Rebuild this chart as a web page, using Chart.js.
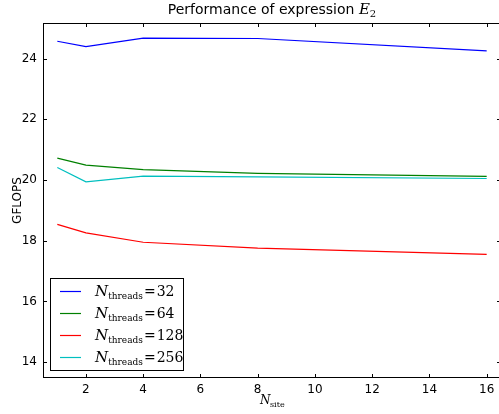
<!DOCTYPE html>
<html>
<head>
<meta charset="utf-8">
<script src="https://cdn.jsdelivr.net/npm/chart.js@4.4.1/dist/chart.umd.min.js"></script>
<style>
  html, body { margin: 0; padding: 0; overflow: hidden; background: #fff; }
</style>
</head>
<body>
<canvas id="perfChart" width="502" height="414" style="width:502px;height:414px"></canvas>
<script>
// values
const nSite = [1, 2, 4, 8, 16];
const threads32 = [24.57, 24.39, 24.67, 24.66, 24.25];
const threads64 = [20.72, 20.49, 20.34, 20.22, 20.12];
const threads128 = [18.54, 18.26, 17.95, 17.76, 17.55];
const threads256 = [20.41, 19.94, 20.13, 20.10, 20.05];

const threadLabels = ["32", "64", "128", "256"];
const lineColours = ["#0000ff", "#008000", "#ff0000", "#00bfbf"];
const xTicks = [2, 4, 6, 8, 10, 12, 14, 16];
const yTicks = [14, 16, 18, 20, 22, 24];

const seriesList = [threads32, threads64, threads128, threads256];

const datasets = seriesList.map((vals, i) => ({
    label: threadLabels[i],
    data: nSite.map((x, j) => ({ x: x, y: vals[j] })),
    borderColor: lineColours[i],
    borderWidth: 1.2,
    pointRadius: 0,
    fill: false,
    tension: 0,
}));

// draws the frame, inward ticks, title, axis titles and legend
const decorations = {
    id: "decorations",
    afterDatasetsDraw(chart) {
        const ctx = chart.ctx;
        const area = chart.chartArea;
        const xs = chart.scales.x;
        const ys = chart.scales.y;
        ctx.save();

        // frame
        ctx.strokeStyle = "#000";
        ctx.lineWidth = 1;
        ctx.strokeRect(area.left + 0.5, area.top + 0.5, area.right - area.left - 1, area.bottom - area.top - 1);

        // inward ticks on all four sides
        const tl = 4;
        ctx.beginPath();
        xTicks.forEach(v => {
            const px = Math.round(xs.getPixelForValue(v)) + 0.5;
            ctx.moveTo(px, area.bottom); ctx.lineTo(px, area.bottom - tl);
            ctx.moveTo(px, area.top); ctx.lineTo(px, area.top + tl);
        });
        yTicks.forEach(v => {
            const py = Math.round(ys.getPixelForValue(v)) + 0.5;
            ctx.moveTo(area.left, py); ctx.lineTo(area.left + tl, py);
            ctx.moveTo(area.right, py); ctx.lineTo(area.right - tl, py);
        });
        ctx.stroke();

        // title
        ctx.fillStyle = "#000";
        ctx.textBaseline = "alphabetic";
        const t1 = "Performance of expression ";
        ctx.font = "14px 'DejaVu Sans'";
        const w1 = ctx.measureText(t1).width;
        ctx.font = "italic 15px 'DejaVu Serif'";
        const wE = ctx.measureText("E").width;
        ctx.font = "10px 'DejaVu Serif'";
        const w2 = ctx.measureText("2").width;
        let tx = (area.left + area.right) / 2 - (w1 + wE + w2) / 2;
        ctx.textAlign = "left";
        ctx.font = "14px 'DejaVu Sans'";
        ctx.fillText(t1, tx, 14);
        tx += w1;
        ctx.font = "italic 15px 'DejaVu Serif'";
        ctx.fillText("E", tx, 14);
        tx += wE;
        ctx.font = "10px 'DejaVu Serif'";
        ctx.fillText("2", tx, 17);

        // x axis title N_site
        ctx.font = "italic 12px 'DejaVu Serif'";
        ctx.fillText("N", 260, 404);
        ctx.font = "8px 'DejaVu Serif'";
        ctx.fillText("site", 270, 407);

        // y axis title
        ctx.save();
        ctx.translate(21, (area.top + area.bottom) / 2);
        ctx.rotate(-Math.PI / 2);
        ctx.textAlign = "center";
        ctx.font = "12px 'DejaVu Sans'";
        ctx.fillText("GFLOPS", 0, 0);
        ctx.restore();

        // legend
        ctx.fillStyle = "#fff";
        ctx.fillRect(50, 278, 134, 93);
        ctx.strokeStyle = "#000";
        ctx.strokeRect(50.5, 278.5, 133, 92);
        threadLabels.forEach((lab, i) => {
            const ry = 291 + i * 22;
            ctx.strokeStyle = lineColours[i];
            ctx.lineWidth = 1.2;
            ctx.beginPath();
            ctx.moveTo(60, ry + 0.5); ctx.lineTo(81, ry + 0.5);
            ctx.stroke();
            ctx.fillStyle = "#000";
            let lx = 95;
            ctx.font = "italic 15px 'DejaVu Serif'";
            ctx.fillText("N", lx, ry + 5);
            lx += ctx.measureText("N").width;
            ctx.font = "9px 'DejaVu Serif'";
            ctx.fillText("threads", lx, ry + 8);
            lx += ctx.measureText("threads").width + 1;
            ctx.font = "14px 'DejaVu Serif'";
            ctx.fillText("=", lx, ry + 5);
            lx += ctx.measureText("=").width + 1;
            ctx.fillText(lab, lx, ry + 5);
        });

        ctx.restore();
    }
};

new Chart(document.getElementById("perfChart"), {
    type: "line",
    data: { datasets: datasets },
    options: {
        responsive: false,
        animation: false,
        devicePixelRatio: 1,
        layout: { padding: { top: 23, right: 1, left: 0, bottom: 0 } },
        plugins: {
            legend: { display: false },
            tooltip: { enabled: false },
        },
        scales: {
            x: {
                type: "linear",
                min: 0.5,
                max: 16.5,
                afterBuildTicks: (scale) => { scale.ticks = xTicks.map(v => ({ value: v })); },
                afterFit: (scale) => { scale.height = 36; },
                border: { display: false },
                grid: { display: false, drawTicks: false },
                ticks: {
                    color: "#000",
                    padding: 5,
                    maxRotation: 0,
                    font: { family: "'DejaVu Sans'", size: 12 },
                },
            },
            y: {
                type: "linear",
                min: 13.48,
                max: 25.17,
                afterBuildTicks: (scale) => { scale.ticks = yTicks.map(v => ({ value: v })); },
                afterFit: (scale) => { scale.width = 43; },
                border: { display: false },
                grid: { display: false, drawTicks: false },
                ticks: {
                    color: "#000",
                    padding: 6,
                    font: { family: "'DejaVu Sans'", size: 12 },
                },
            },
        },
    },
    plugins: [decorations],
});
</script>
</body>
</html>
